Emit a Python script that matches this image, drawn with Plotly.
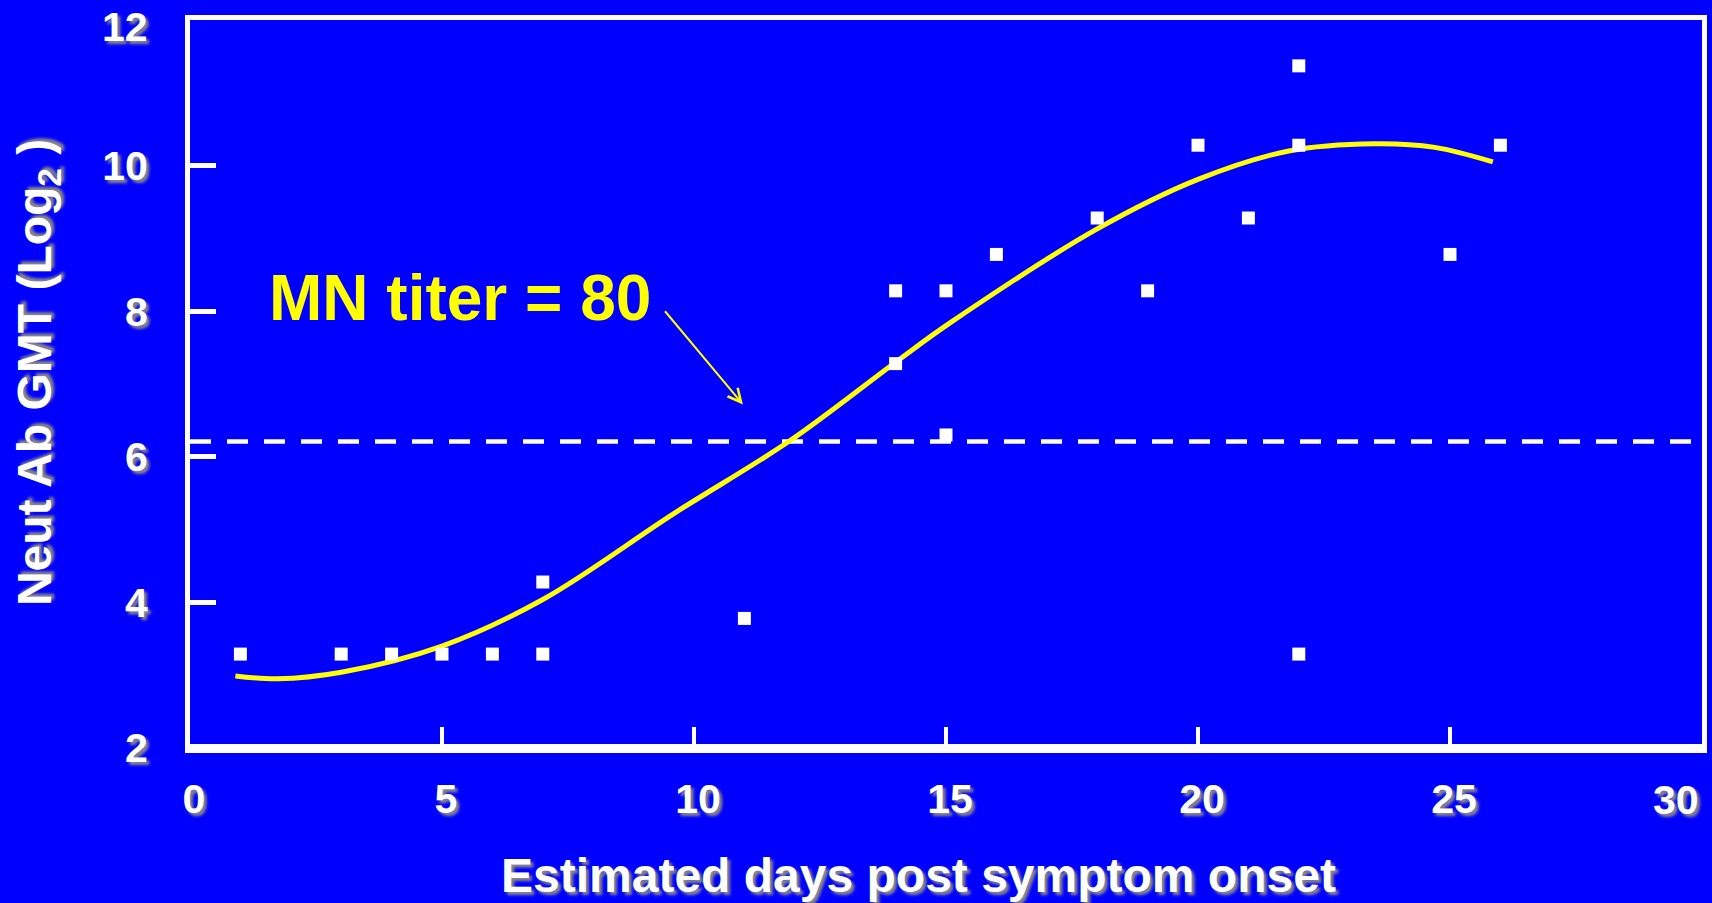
import plotly.graph_objects as go

# ---- data ----
days = [1, 3, 4, 5, 6, 7, 7, 11, 14, 14, 15, 15, 16, 18, 19, 20, 21, 22, 22, 22, 25, 26]
gmt = [3.29, 3.29, 3.29, 3.29, 3.29, 3.29, 4.28, 3.78, 8.28, 7.28, 8.28, 6.30, 8.78,
       9.28, 8.28, 10.28, 9.28, 10.28, 11.37, 3.29, 8.78, 10.28]

fit_x = [0.9, 1.74, 3.0, 5.0, 7.0, 9.6, 11.9, 14.0, 15.08, 18.0, 20.0, 21.8, 23.5, 24.7, 25.85]
fit_y = [2.99, 2.95, 3.04, 3.40, 4.04, 5.22, 6.22, 7.30, 7.84, 9.13, 9.81, 10.20, 10.30, 10.25, 10.05]

threshold_x = [0, 30]
threshold_y = [6.21, 6.21]

x_ticks = [0, 5, 10, 15, 20, 25, 30]
x_labels = ["0", "5", "10", "15", "20", "25", "30"]
y_ticks = [2, 4, 6, 8, 10, 12]
y_labels = ["2", "4", "6", "8", "10", "12"]

label_text = "MN titer = 80"
label_pos = (5.35, 8.18)
arrow_tail = (9.4, 8.02)
arrow_tip = (10.97, 6.72)

BLUE = "#0000FF"
FONT = "Liberation Sans, Arial, sans-serif"
SHADOW = "3px 3px 3px #8a8a8a"

fig = go.Figure()

fig.add_trace(go.Scatter(
    x=threshold_x, y=threshold_y, mode="lines",
    line=dict(color="white", width=4.5, dash="21px,16px"),
    hoverinfo="skip", showlegend=False))

fig.add_trace(go.Scatter(
    x=fit_x, y=fit_y, mode="lines",
    line=dict(color="#FFFF00", width=5, shape="spline", smoothing=1.0),
    showlegend=False))

fig.add_trace(go.Scatter(
    x=days, y=gmt, mode="markers",
    marker=dict(symbol="square", size=13, color="white", line=dict(width=0)),
    showlegend=False))

tickfont = dict(family=FONT, size=41, color="white", weight="bold", shadow=SHADOW)

# the last tick of each axis sits on the frame corner; its label is placed separately
fig.update_xaxes(
    range=[0, 30], tickmode="array", tickvals=x_ticks[:-1], ticktext=x_labels[:-1],
    showgrid=False, zeroline=False, showline=True, linecolor="white", linewidth=5,
    mirror=True, ticks="inside", ticklen=21, tickwidth=3.5, tickcolor="white",
    tickfont=tickfont, ticklabelstandoff=11, ticklabelshift=4, ticklabeloverflow="allow",
    automargin=False)

fig.update_yaxes(
    range=[2, 12], tickmode="array", tickvals=y_ticks[:-1], ticktext=y_labels[:-1],
    showgrid=False, zeroline=False, showline=True, linecolor="white", linewidth=5,
    mirror=True, ticks="inside", ticklen=26, tickwidth=5, tickcolor="white",
    tickfont=tickfont, ticklabelstandoff=29, ticklabeloverflow="allow",
    automargin=False)

# thicker bottom axis line
fig.add_shape(type="line", xref="paper", yref="paper", x0=-0.002, x1=1.002, y0=0, y1=0,
              line=dict(color="white", width=8))

fig.add_annotation(text=x_labels[-1], xref="paper", yref="paper", x=0.9828, y=-0.0711,
                   xanchor="center", yanchor="middle", showarrow=False, font=tickfont)
fig.add_annotation(text=y_labels[-1], xref="paper", yref="paper", x=-0.0265, y=0.99,
                   xanchor="right", yanchor="middle", showarrow=False, font=tickfont)

titlefont = dict(family=FONT, size=48, color="white", weight="bold", shadow=SHADOW)

fig.add_annotation(text="Estimated days post symptom onset", xref="paper", yref="paper",
                   x=0.4815, y=-0.175, xanchor="center", yanchor="middle",
                   showarrow=False, font=titlefont)
fig.add_annotation(text="Neut Ab GMT (Log<sub>2</sub> )", xref="paper", yref="paper",
                   x=-0.1005, y=0.515, xanchor="center", yanchor="middle", textangle=-90,
                   showarrow=False, font=titlefont)

fig.add_annotation(text=label_text, x=label_pos[0], y=label_pos[1], xref="x", yref="y",
                   showarrow=False, xanchor="center", yanchor="middle",
                   font=dict(family=FONT, size=64, color="#FFFF00", weight="bold"))

fig.add_annotation(x=arrow_tip[0], y=arrow_tip[1], ax=arrow_tail[0], ay=arrow_tail[1],
                   xref="x", yref="y", axref="x", ayref="y", text="",
                   showarrow=True, arrowhead=5, arrowsize=1.3, arrowwidth=2,
                   arrowcolor="#FFFF00")

fig.update_layout(
    width=1712, height=903,
    paper_bgcolor=BLUE, plot_bgcolor=BLUE,
    margin=dict(l=190, r=10, t=20, b=155, autoexpand=False),
    showlegend=False,
)

fig.write_html("out.html", config={"displayModeBar": False},
               post_script="document.body.style.margin='0';document.body.style.overflow='hidden';")
